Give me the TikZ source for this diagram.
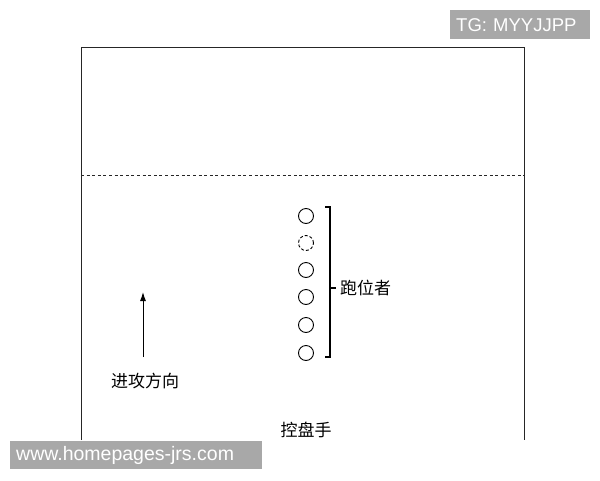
\documentclass[tikz,border=0pt]{standalone}
\usepackage{fontspec}
\newfontfamily\cjk{Noto Sans CJK SC}
\setsansfont{Liberation Sans}
\usetikzlibrary{arrows.meta,positioning}
\definecolor{taggray}{RGB}{168,168,168}
\tikzstyle{court}=[draw=black!85,line width=1pt]
\tikzstyle{halfline}=[draw=black!85,line width=0.9pt,dash pattern=on 3pt off 2.6pt]
\tikzstyle{player}=[circle,draw=black,line width=0.9pt,minimum size=15pt,inner sep=0pt]
\tikzstyle{ghost}=[player,dash pattern=on 3pt off 2pt]
\tikzstyle{bracket}=[draw=black,line width=1.1pt]
\tikzstyle{signal}=[arrows={-Latex[length=9pt,width=6pt]},draw=black,line width=1pt]
\tikzstyle{caption}=[font=\cjk\fontsize{17}{17}\selectfont,inner sep=0pt]
\tikzstyle{tag}=[fill=taggray,text=white,font=\sffamily\fontsize{18.5}{18.5}\selectfont,anchor=north west,inner xsep=6pt,inner ysep=0pt]

\begin{document}
\begin{tikzpicture}[x=1pt,y=-1pt]
    \useasboundingbox (0,0) rectangle (600,480);

    % court and half line
    \draw[court] (81,440) -- (81,47) -- (524,47) -- (524,440);
    \draw[halfline] (81,175) -- (524,175);

    % runners
    \foreach \i/\y/\s in {1/216/player,2/243/ghost,3/270/player,4/297/player,5/325/player,6/353/player}
        \node[\s] (p\i) at (306,\y) {};

    \coordinate (brtop) at (330,207);
    \coordinate (brbot) at (330,357);
    \coordinate (brmid) at (330,288);
    \draw[bracket] ([xshift=-5pt]brtop) -- (brtop) -- (brbot) -- ([xshift=-5pt]brbot);
    \draw[bracket] (brmid) -- ([xshift=6pt]brmid);
    \node[caption, anchor=west] (runner) at (340,288) {跑位者};

    % attack direction
    \coordinate (dirfrom) at (143,357);
    \coordinate (dirto) at (143,292);
    \draw[signal] (dirfrom) -- (dirto);
    \node[caption] (dirlabel) at (145,381) {进攻方向};

    \node[caption] (handler) at (306,430) {控盘手};

    % tags
    \node[tag, text width=128pt, minimum height=29pt] (tgtag) at (450,10) {TG: MYYJJPP};
    \node[tag, text width=240pt, minimum height=28pt, font=\sffamily\fontsize{19.5}{19.5}\selectfont] (webtag) at (10,441) {www.homepages-jrs.com};
\end{tikzpicture}
\end{document}
